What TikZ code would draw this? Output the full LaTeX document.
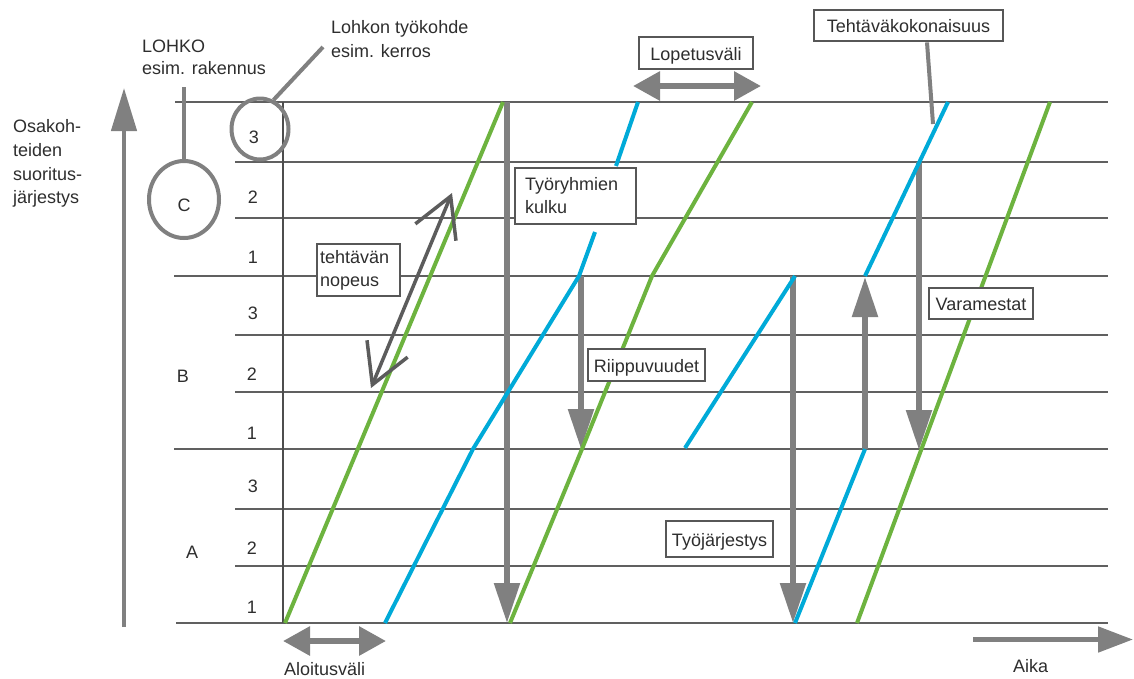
\documentclass[tikz,border=0pt]{standalone}
\usepackage{fontspec}
\setmainfont{Liberation Sans}
\usetikzlibrary{arrows.meta,shapes.geometric}
\definecolor{grnc}{HTML}{6DB33F}
\definecolor{bluc}{HTML}{00AAD8}
\definecolor{grayc}{HTML}{808080}
\definecolor{linec}{HTML}{606060}
\definecolor{axisc}{HTML}{4D4D4D}
\definecolor{boxc}{HTML}{575757}
\definecolor{nopc}{HTML}{5C5C5C}
\definecolor{txtc}{HTML}{2E2E2E}
\begin{document}
\begin{tikzpicture}[x=1pt,y=-1pt,
  every node/.style={font=\fontsize{18}{23}\selectfont, text=txtc},
  hline/.style={draw=linec, line width=2.6pt},
  axisl/.style={draw=axisc, line width=1.8pt},
  grnl/.style={draw=grnc, line width=4pt, line join=round},
  blul/.style={draw=bluc, line width=4pt, line join=round},
  garrow/.style={draw=grayc, line width=5.5pt, -{Triangle[length=40pt,width=25pt]}},
  bigarrow/.style={draw=grayc, line width=4.5pt, -{Triangle[length=43pt,width=25pt]}},
  dblarrow/.style={draw=grayc, line width=6pt, {Triangle[length=27pt,width=28pt]}-{Triangle[length=27pt,width=28pt]}},
  timearrow/.style={draw=grayc, line width=5pt, -{Triangle[length=35pt,width=25pt]}},
  speedarrow/.style={draw=nopc, line width=3.5pt, {Straight Barb[length=39pt,width=44pt]}-{Straight Barb[length=39pt,width=44pt]}},
  lead/.style={draw=grayc, line width=4pt},
  ring/.style={draw=grayc, line width=4pt, ellipse, inner sep=0pt},
  sbox/.style={draw=boxc, line width=2.8pt, fill=white, text height=14.5pt, text depth=0pt, inner sep=0pt},
  mbox/.style={draw=boxc, line width=2.8pt, fill=white, align=left, inner ysep=0pt},
  lbl/.style={anchor=base west, inner sep=0pt},
  num/.style={anchor=base, inner sep=0pt},
]
\useasboundingbox (0,0) rectangle (1134,678);
\fill[white] (0,0) rectangle (1134,678);

% row lines
\foreach \yy/\xx in {102/175,162/235,218/235,276/174,335/235,392/235,449/174,509/235,566/235,623/176}
  \draw[hline] (\xx,\yy) -- (1108,\yy);
\draw[axisl] (283,102) -- (283,623);

% vertical axis arrow and its label
\coordinate (yaxB) at (124,627);
\coordinate (yaxT) at (124,88);
\draw[bigarrow] (yaxB) -- (yaxT);
\node[lbl] (yl1) at (13,132) {Osakoh-};
\node[lbl] (yl2) at (13,156) {teiden};
\node[lbl] (yl3) at (13,180) {suoritus-};
\node[lbl] (yl4) at (13,203) {järjestys};

% block / work-site labels
\node[lbl] (lohko1) at (142,52) {LOHKO};
\node[lbl] (lohko2) at (142,74) {esim. rakennus};
\node[lbl] (tyok1) at (331,33) {Lohkon työkohde};
\node[lbl] (tyok2) at (331,57) {esim. kerros};

\node[ring, minimum width=70pt, minimum height=77pt] (cC) at (184,199.5) {};
\node[ring, minimum width=57pt, minimum height=61pt] (c3) at (260,129) {};
\coordinate (lohkoTop) at (184,87);
\draw[lead] (lohkoTop) -- (cC.north);
\coordinate (tyokEnd) at (323,47);
\draw[lead] (c3.65) -- (tyokEnd);

\node[num] (bC) at (184,211) {C};
\node[num] (bB) at (183,382) {B};
\node[num] (bA) at (192,558) {A};

\node[num] (nC3) at (254,143) {3};
\node[num] (nC2) at (253,203) {2};
\node[num] (nC1) at (253,263) {1};
\node[num] (nB3) at (253,319) {3};
\node[num] (nB2) at (252,380) {2};
\node[num] (nB1) at (252,439) {1};
\node[num] (nA3) at (253,492) {3};
\node[num] (nA2) at (252,554) {2};
\node[num] (nA1) at (252,613) {1};

% gray dependency arrows
\coordinate (a1s) at (507,102); \coordinate (a1e) at (507,623);
\coordinate (a2s) at (581,276); \coordinate (a2e) at (581,449);
\coordinate (a3s) at (793,276); \coordinate (a3e) at (793,623);
\coordinate (a4s) at (865,449); \coordinate (a4e) at (865,277);
\coordinate (a5s) at (919,162); \coordinate (a5e) at (919,450);
\draw[garrow] (a1s) -- (a1e);
\draw[garrow] (a2s) -- (a2e);
\draw[garrow] (a3s) -- (a3e);
\draw[garrow] (a4s) -- (a4e);
\draw[garrow] (a5s) -- (a5e);

% task lines
\draw[grnl] (285,623) -- (503,102);
\draw[grnl] (510,623) -- (582,449) -- (652,276) -- (752,102);
\draw[grnl] (857,623) -- (1050,102);
\draw[blul] (385,623) -- (473,449) -- (579,276) -- (595,232);
\draw[blul] (616,166) -- (638,102);
\draw[blul] (685,448) -- (795,276);
\draw[blul] (795,623) -- (865,449);
\draw[blul] (865,276) -- (948,102);

% speed arrow
\coordinate (nopT) at (452,193);
\coordinate (nopB) at (371,388);
\draw[speedarrow] (nopB) -- (nopT);

% interval arrows
\coordinate (lopL) at (633,86); \coordinate (lopR) at (761,86);
\draw[dblarrow] (lopL) -- (lopR);
\coordinate (aloL) at (283,641); \coordinate (aloR) at (386,641);
\draw[dblarrow] (aloL) -- (aloR);
\coordinate (aikaL) at (973,639.5); \coordinate (aikaR) at (1133,639.5);
\draw[timearrow] (aikaL) -- (aikaR);
\node[lbl] (alo) at (284,675) {Aloitusväli};
\node[lbl] (aika) at (1013,672) {Aika};

% boxes
\node[mbox, text width=77pt, inner xsep=3pt, minimum height=52pt] (nop) at (358.5,270) {tehtävän\\nopeus};
\node[mbox, text width=101pt, inner xsep=10pt, minimum height=56pt] (tr) at (575.5,196) {Työryhmien\\kulku};
\node[sbox, minimum width=114pt, minimum height=32pt] (lop) at (696,53) {Lopetusväli};
\node[sbox, minimum width=189pt, minimum height=31pt] (tk) at (908.5,25.5) {Tehtäväkokonaisuus};
\node[sbox, minimum width=117pt, minimum height=32pt] (rp) at (646.5,365) {Riippuvuudet};
\node[sbox, minimum width=104pt, minimum height=31pt] (vm) at (981,303.5) {Varamestat};
\node[sbox, minimum width=107pt, minimum height=36pt] (tj) at (719.5,539) {Työjärjestys};

\coordinate (tkEnd) at (933,124);
\draw[lead] ([xshift=18.5pt]tk.south) -- (tkEnd);
\end{tikzpicture}
\end{document}
